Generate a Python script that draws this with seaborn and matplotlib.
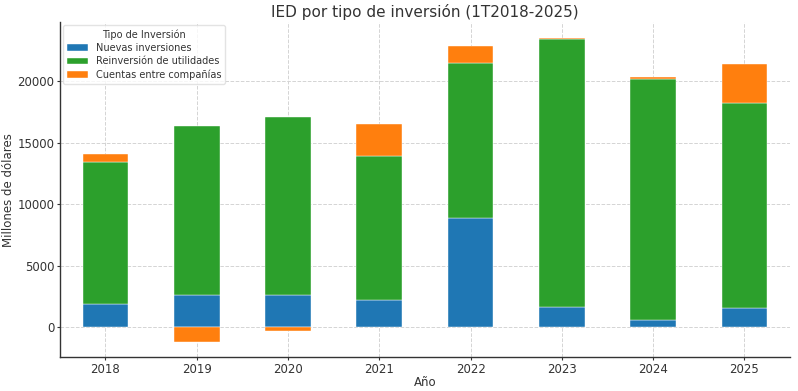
import numpy as np
import pandas as pd
import matplotlib
matplotlib.use('Agg')
import matplotlib.pyplot as plt
import seaborn as sns

# ---------- Data (millones de dólares) ----------
years = ['2018', '2019', '2020', '2021', '2022', '2023', '2024', '2025']
nuevas = [1940, 2610, 2620, 2240, 8880, 1700, 570, 1540]
reinversion = [11500, 13760, 14480, 11700, 12580, 21730, 19620, 16710]
cuentas = [650, -1160, -270, 2590, 1350, 100, 110, 3130]

series_names = ['Nuevas inversiones', 'Reinversión de utilidades', 'Cuentas entre compañías']
colors = ['#1f77b4', '#2ca02c', '#ff7f0e']

df = pd.DataFrame({'Año': years,
                   series_names[0]: nuevas,
                   series_names[1]: reinversion,
                   series_names[2]: cuentas})

sns.set_theme(style="whitegrid", rc={
    'grid.linestyle': '--', 'grid.color': '#d4d4d4', 'grid.linewidth': 0.7,
    'axes.edgecolor': '#333333', 'axes.linewidth': 1.0,
    'text.color': '#333333', 'axes.labelcolor': '#333333',
    'xtick.color': '#333333', 'ytick.color': '#333333',
    'xtick.bottom': True, 'ytick.left': True,
})
plt.rcParams['font.family'] = ['DejaVu Sans']

fig, ax = plt.subplots(figsize=(7.98, 3.91), dpi=100)

# stack positives and negatives separately
pos_base = np.zeros(len(years))
neg_base = np.zeros(len(years))
for name, col in zip(series_names, colors):
    vals = df[name].to_numpy(dtype=float)
    bottom = np.where(vals >= 0, pos_base, neg_base)
    sns.barplot(x=df['Año'], y=vals, bottom=bottom, color=col, label=name,
                width=0.5, edgecolor='white', linewidth=0.3, ax=ax, saturation=1)
    pos_base = pos_base + np.where(vals >= 0, vals, 0)
    neg_base = neg_base + np.where(vals < 0, vals, 0)

ax.set_title('IED por tipo de inversión (1T2018-2025)', fontsize=11, pad=4)
ax.set_xlabel('Año', fontsize=8.5, labelpad=0)
ax.set_ylabel('Millones de dólares', fontsize=8.5, labelpad=2)
ax.tick_params(axis='both', labelsize=8.5, length=2.5, width=0.8, pad=1.5)
ax.set_xlim(-0.5, len(years) - 0.5)
ax.set_yticks([0, 5000, 10000, 15000, 20000])
ax.margins(y=0.05)
ax.autoscale(axis='y')
ax.grid(True, axis='both')
ax.set_axisbelow(True)
sns.despine(ax=ax)
ax.spines['left'].set_color('#333333')
ax.spines['bottom'].set_color('#333333')

leg = ax.legend(title='Tipo de Inversión', fontsize=7, title_fontsize=7,
                loc='upper left', frameon=True, handlelength=2.2,
                borderaxespad=0.3, labelspacing=0.35)
leg.get_frame().set_edgecolor('#dddddd')

plt.subplots_adjust(left=0.075, right=0.99, top=0.943, bottom=0.087)
plt.savefig('out.png', dpi=100)
